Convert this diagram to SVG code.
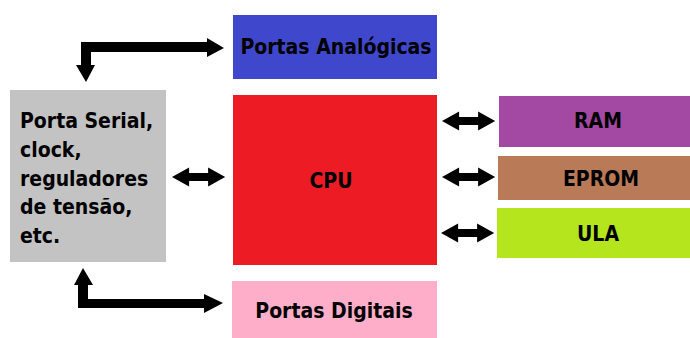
<svg xmlns="http://www.w3.org/2000/svg" width="690" height="338" viewBox="0 0 690 338">
<style>
text{font-family:"DejaVu Sans Condensed","Liberation Sans",sans-serif;font-weight:bold;font-size:21px;fill:#000}
.c{text-anchor:middle;dominant-baseline:central}
.a{fill:#000}
</style>
<defs>
<path id="dbl" d="M0,0 L9,-9.5 L9,-4 L19,-4 L19,-9.5 L28,0 L19,9.5 L19,4 L9,4 L9,9.5 Z"/>
</defs>
<rect width="690" height="338" fill="#fff"/>
<g id="serial">
<rect x="10" y="90" width="156" height="172" fill="#c3c3c3"/>
<text x="20" y="128">Porta Serial,</text>
<text x="20" y="157">clock,</text>
<text x="20" y="186">reguladores</text>
<text x="20" y="214">de tensão,</text>
<text x="20" y="243">etc.</text>
</g>
<g id="analogicas">
<rect x="233" y="15" width="204" height="64" fill="#3f48cc"/>
<text class="c" x="336" y="47">Portas Analógicas</text>
</g>
<g id="cpu">
<rect x="233" y="95" width="204" height="170" fill="#ed1c24"/>
<text class="c" x="331" y="181">CPU</text>
</g>
<g id="digitais">
<rect x="232" y="281" width="205" height="57" fill="#ffaec9"/>
<text class="c" x="334" y="311">Portas Digitais</text>
</g>
<g id="ram">
<rect x="499" y="96" width="191" height="51" fill="#a349a4"/>
<text class="c" x="598" y="121">RAM</text>
</g>
<g id="eprom">
<rect x="498" y="156" width="192" height="44" fill="#b97a57"/>
<text class="c" x="601" y="179">EPROM</text>
</g>
<g id="ula">
<rect x="497" y="208" width="193" height="50" fill="#b5e61d"/>
<text class="c" x="598" y="234">ULA</text>
</g>
<g id="connectors" class="a">
<path d="M81,65 L81,42 L207,42 L207,38 L224,48 L207,57 L207,52 L91,52 L91,65 L95,65 L86,82 L76,65 Z"/>
<path d="M74,285 L83,268 L93,285 L88,285 L88,299 L204,299 L204,294 L223,303 L204,313 L204,308 L78,308 L78,285 Z"/>
<g transform="translate(172,177) scale(1.9,1)"><use href="#dbl"/></g>
<g transform="translate(442,121) scale(1.9,1)"><use href="#dbl"/></g>
<g transform="translate(442,177) scale(1.9,1)"><use href="#dbl"/></g>
<g transform="translate(441,233) scale(1.9,1)"><use href="#dbl"/></g>
</g>
</svg>
